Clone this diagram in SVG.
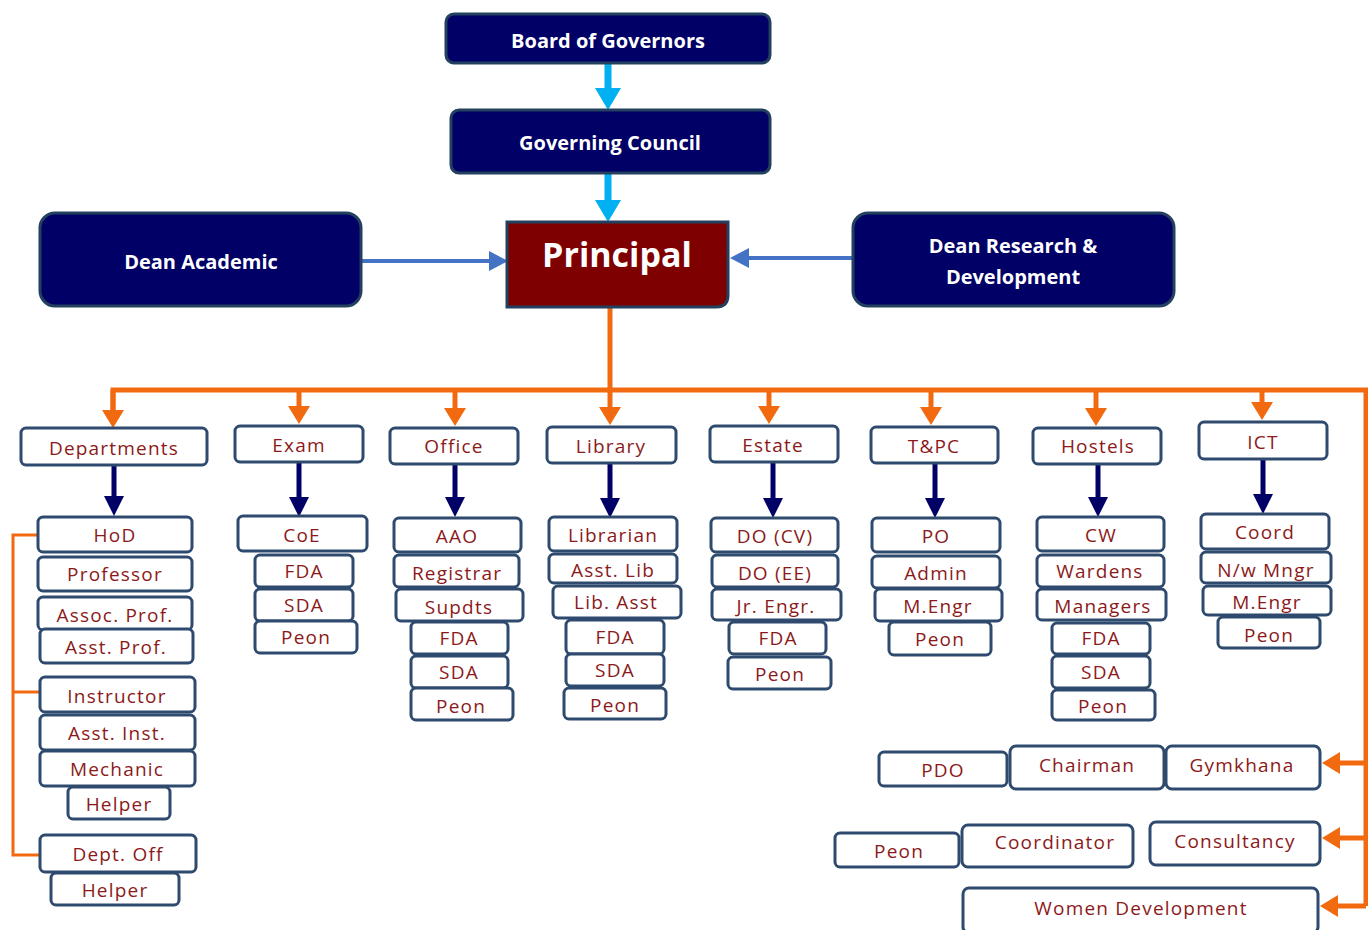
<svg xmlns="http://www.w3.org/2000/svg" width="1368" height="930" viewBox="0 0 1368 930">
<style>
.top{fill:#000066;stroke:#24405f;stroke-width:3}
.pr{fill:#7f0000;stroke:#24405f;stroke-width:3}
.wt{fill:#ffffff;font-family:"Open Sans",sans-serif;font-weight:bold;font-size:20px;text-anchor:middle;dominant-baseline:central}
.bx{fill:#ffffff;stroke:#2e4a6e;stroke-width:3}
.t{fill:#8b1a1a;font-family:"Open Sans",sans-serif;font-size:19px;letter-spacing:1.2px;text-anchor:middle;dominant-baseline:central}
.or{stroke:#f26a10;stroke-width:5;fill:none}
.orth{stroke:#f26a10;stroke-width:3;fill:none}
.cy{stroke:#00b0f0;stroke-width:7;fill:none}
.bl{stroke:#4472c4;stroke-width:4;fill:none}
.nv{stroke:#000066;stroke-width:5;fill:none}
</style>
<defs>
<marker id="mo" markerUnits="userSpaceOnUse" viewBox="0 0 18 22" markerWidth="18" markerHeight="22" refX="0" refY="11" orient="auto"><path d="M0,0 L18,11 L0,22 z" fill="#f26a10"/></marker>
<marker id="mc" markerUnits="userSpaceOnUse" viewBox="0 0 22 26" markerWidth="22" markerHeight="26" refX="0" refY="13" orient="auto"><path d="M0,0 L22,13 L0,26 z" fill="#00b0f0"/></marker>
<marker id="mb" markerUnits="userSpaceOnUse" viewBox="0 0 19 20" markerWidth="19" markerHeight="20" refX="0" refY="10" orient="auto"><path d="M0,0 L19,10 L0,20 z" fill="#4472c4"/></marker>
<marker id="mn" markerUnits="userSpaceOnUse" viewBox="0 0 20 20" markerWidth="20" markerHeight="20" refX="0" refY="10" orient="auto"><path d="M0,0 L20,10 L0,20 z" fill="#000066"/></marker>
</defs>

<g id="connectors">
<line class="cy" x1="608" y1="63" x2="608" y2="88" marker-end="url(#mc)"/>
<line class="cy" x1="608" y1="173" x2="608" y2="200" marker-end="url(#mc)"/>
<line class="bl" x1="361" y1="261" x2="489" y2="261" marker-end="url(#mb)"/>
<line class="bl" x1="853" y1="258" x2="749" y2="258" marker-end="url(#mb)"/>
<polyline class="or" points="610,308 610,390"/>
<polyline class="or" points="113,410 113,390 1366,390 1366,906"/>
<line class="or" x1="299" y1="390" x2="299" y2="406" marker-end="url(#mo)"/>
<line class="or" x1="455" y1="390" x2="455" y2="408" marker-end="url(#mo)"/>
<line class="or" x1="610" y1="390" x2="610" y2="407" marker-end="url(#mo)"/>
<line class="or" x1="769" y1="390" x2="769" y2="406" marker-end="url(#mo)"/>
<line class="or" x1="931" y1="390" x2="931" y2="407" marker-end="url(#mo)"/>
<line class="or" x1="1096" y1="390" x2="1096" y2="408" marker-end="url(#mo)"/>
<line class="or" x1="1262" y1="390" x2="1262" y2="402" marker-end="url(#mo)"/>
<line class="or" x1="113" y1="390" x2="113" y2="410" marker-end="url(#mo)"/>
<line class="or" x1="1366" y1="763" x2="1340" y2="763" marker-end="url(#mo)"/>
<line class="or" x1="1366" y1="838" x2="1340" y2="838" marker-end="url(#mo)"/>
<line class="or" x1="1366" y1="906" x2="1338" y2="906" marker-end="url(#mo)"/>
<polyline class="orth" points="38,535 13,535 13,855 40,855"/>
<line class="orth" x1="13" y1="692" x2="40" y2="692"/>
<line class="nv" x1="114" y1="465" x2="114" y2="496" marker-end="url(#mn)"/>
<line class="nv" x1="299" y1="462" x2="299" y2="497" marker-end="url(#mn)"/>
<line class="nv" x1="455" y1="464" x2="455" y2="497" marker-end="url(#mn)"/>
<line class="nv" x1="610" y1="463" x2="610" y2="498" marker-end="url(#mn)"/>
<line class="nv" x1="773" y1="462" x2="773" y2="498" marker-end="url(#mn)"/>
<line class="nv" x1="935" y1="463" x2="935" y2="498" marker-end="url(#mn)"/>
<line class="nv" x1="1098" y1="464" x2="1098" y2="497" marker-end="url(#mn)"/>
<line class="nv" x1="1263" y1="459" x2="1263" y2="494" marker-end="url(#mn)"/>
</g>

<g id="board"><rect class="top" x="446" y="14" width="324" height="49" rx="8"/><text class="wt" x="608" y="40">Board of Governors</text></g>
<g id="council"><rect class="top" x="451" y="110" width="319" height="63" rx="8"/><text class="wt" x="610" y="142">Governing Council</text></g>
<g id="principal"><path class="pr" d="M507,222 H728 V295 Q728,307 716,307 H507 Z"/><text class="wt" x="617" y="254" style="font-size:34px">Principal</text></g>
<g id="dean-academic"><rect class="top" x="40" y="213" width="321" height="93" rx="15"/><text class="wt" x="201" y="261">Dean Academic</text></g>
<g id="dean-rd"><rect class="top" x="853" y="213" width="321" height="93" rx="15"/><text class="wt" x="1013" y="245">Dean Research &amp;</text><text class="wt" x="1013" y="276">Development</text></g>

<g id="departments"><rect class="bx" x="21" y="428" width="186" height="37" rx="5"/><text class="t" x="114" y="448">Departments</text></g>
<g id="exam"><rect class="bx" x="235" y="426" width="128" height="36" rx="5"/><text class="t" x="299" y="445">Exam</text></g>
<g id="office"><rect class="bx" x="390" y="428" width="128" height="36" rx="5"/><text class="t" x="454" y="446">Office</text></g>
<g id="library"><rect class="bx" x="547" y="427" width="129" height="36" rx="5"/><text class="t" x="611" y="446">Library</text></g>
<g id="estate"><rect class="bx" x="710" y="426" width="128" height="36" rx="5"/><text class="t" x="773" y="445">Estate</text></g>
<g id="tpc"><rect class="bx" x="871" y="427" width="127" height="36" rx="5"/><text class="t" x="934" y="446">T&amp;PC</text></g>
<g id="hostels"><rect class="bx" x="1033" y="428" width="128" height="36" rx="5"/><text class="t" x="1098" y="446">Hostels</text></g>
<g id="ict"><rect class="bx" x="1199" y="422" width="128" height="37" rx="5"/><text class="t" x="1263" y="442">ICT</text></g>

<g id="dept-hod"><rect class="bx" x="38" y="517" width="154" height="35" rx="5"/><text class="t" x="115" y="535">HoD</text></g>
<g id="dept-professor"><rect class="bx" x="38" y="557" width="154" height="34" rx="5"/><text class="t" x="115" y="574">Professor</text></g>
<g id="dept-assoc"><rect class="bx" x="38" y="597" width="154" height="33" rx="5"/><text class="t" x="115" y="615">Assoc. Prof.</text></g>
<g id="dept-asst"><rect class="bx" x="40" y="629" width="153" height="34" rx="5"/><text class="t" x="116" y="647">Asst. Prof.</text></g>
<g id="dept-instructor"><rect class="bx" x="40" y="677" width="155" height="35" rx="5"/><text class="t" x="117" y="696">Instructor</text></g>
<g id="dept-asstinst"><rect class="bx" x="40" y="715" width="155" height="35" rx="5"/><text class="t" x="117" y="733">Asst. Inst.</text></g>
<g id="dept-mechanic"><rect class="bx" x="40" y="751" width="155" height="35" rx="5"/><text class="t" x="117" y="769">Mechanic</text></g>
<g id="dept-helper1"><rect class="bx" x="68" y="787" width="102" height="32" rx="5"/><text class="t" x="119" y="804">Helper</text></g>
<g id="dept-off"><rect class="bx" x="40" y="835" width="156" height="37" rx="5"/><text class="t" x="118" y="854">Dept. Off</text></g>
<g id="dept-helper2"><rect class="bx" x="51" y="873" width="128" height="32" rx="5"/><text class="t" x="115" y="890">Helper</text></g>

<g id="exam-coe"><rect class="bx" x="238" y="516" width="129" height="35" rx="5"/><text class="t" x="302" y="535">CoE</text></g>
<g id="exam-fda"><rect class="bx" x="255" y="555" width="98" height="32" rx="5"/><text class="t" x="304" y="571">FDA</text></g>
<g id="exam-sda"><rect class="bx" x="255" y="589" width="98" height="32" rx="5"/><text class="t" x="304" y="605">SDA</text></g>
<g id="exam-peon"><rect class="bx" x="255" y="621" width="102" height="32" rx="5"/><text class="t" x="306" y="637">Peon</text></g>

<g id="off-aao"><rect class="bx" x="394" y="518" width="127" height="34" rx="5"/><text class="t" x="457" y="536">AAO</text></g>
<g id="off-registrar"><rect class="bx" x="394" y="555" width="125" height="32" rx="5"/><text class="t" x="457" y="573">Registrar</text></g>
<g id="off-supdts"><rect class="bx" x="396" y="589" width="127" height="32" rx="5"/><text class="t" x="459" y="607">Supdts</text></g>
<g id="off-fda"><rect class="bx" x="411" y="622" width="97" height="32" rx="5"/><text class="t" x="459" y="638">FDA</text></g>
<g id="off-sda"><rect class="bx" x="411" y="656" width="97" height="32" rx="5"/><text class="t" x="459" y="672">SDA</text></g>
<g id="off-peon"><rect class="bx" x="411" y="688" width="102" height="32" rx="5"/><text class="t" x="461" y="706">Peon</text></g>

<g id="lib-librarian"><rect class="bx" x="549" y="517" width="128" height="34" rx="5"/><text class="t" x="613" y="535">Librarian</text></g>
<g id="lib-asstlib"><rect class="bx" x="549" y="554" width="128" height="29" rx="5"/><text class="t" x="613" y="570">Asst. Lib</text></g>
<g id="lib-libasst"><rect class="bx" x="553" y="586" width="128" height="32" rx="5"/><text class="t" x="616" y="602">Lib. Asst</text></g>
<g id="lib-fda"><rect class="bx" x="566" y="620" width="98" height="34" rx="5"/><text class="t" x="615" y="637">FDA</text></g>
<g id="lib-sda"><rect class="bx" x="566" y="654" width="98" height="32" rx="5"/><text class="t" x="615" y="670">SDA</text></g>
<g id="lib-peon"><rect class="bx" x="564" y="688" width="102" height="31" rx="5"/><text class="t" x="615" y="705">Peon</text></g>

<g id="est-docv"><rect class="bx" x="711" y="518" width="127" height="34" rx="5"/><text class="t" x="775" y="536">DO (CV)</text></g>
<g id="est-doee"><rect class="bx" x="712" y="555" width="126" height="32" rx="5"/><text class="t" x="775" y="573">DO (EE)</text></g>
<g id="est-jr"><rect class="bx" x="712" y="589" width="129" height="31" rx="5"/><text class="t" x="776" y="606">Jr. Engr.</text></g>
<g id="est-fda"><rect class="bx" x="729" y="622" width="97" height="32" rx="5"/><text class="t" x="778" y="638">FDA</text></g>
<g id="est-peon"><rect class="bx" x="728" y="657" width="103" height="32" rx="5"/><text class="t" x="780" y="674">Peon</text></g>

<g id="tpc-po"><rect class="bx" x="872" y="518" width="128" height="34" rx="5"/><text class="t" x="936" y="536">PO</text></g>
<g id="tpc-admin"><rect class="bx" x="872" y="556" width="128" height="32" rx="5"/><text class="t" x="936" y="573">Admin</text></g>
<g id="tpc-mengr"><rect class="bx" x="875" y="589" width="127" height="32" rx="5"/><text class="t" x="938" y="606">M.Engr</text></g>
<g id="tpc-peon"><rect class="bx" x="889" y="622" width="102" height="33" rx="5"/><text class="t" x="940" y="639">Peon</text></g>

<g id="hos-cw"><rect class="bx" x="1037" y="517" width="127" height="34" rx="5"/><text class="t" x="1101" y="535">CW</text></g>
<g id="hos-wardens"><rect class="bx" x="1037" y="555" width="127" height="32" rx="5"/><text class="t" x="1100" y="571">Wardens</text></g>
<g id="hos-managers"><rect class="bx" x="1037" y="589" width="129" height="31" rx="5"/><text class="t" x="1103" y="606">Managers</text></g>
<g id="hos-fda"><rect class="bx" x="1052" y="623" width="98" height="31" rx="5"/><text class="t" x="1101" y="638">FDA</text></g>
<g id="hos-sda"><rect class="bx" x="1052" y="656" width="98" height="32" rx="5"/><text class="t" x="1101" y="672">SDA</text></g>
<g id="hos-peon"><rect class="bx" x="1052" y="690" width="103" height="30" rx="5"/><text class="t" x="1103" y="706">Peon</text></g>

<g id="ict-coord"><rect class="bx" x="1201" y="514" width="128" height="35" rx="5"/><text class="t" x="1265" y="532">Coord</text></g>
<g id="ict-nw"><rect class="bx" x="1201" y="552" width="130" height="31" rx="5"/><text class="t" x="1266" y="570">N/w Mngr</text></g>
<g id="ict-mengr"><rect class="bx" x="1203" y="586" width="128" height="29" rx="5"/><text class="t" x="1267" y="602">M.Engr</text></g>
<g id="ict-peon"><rect class="bx" x="1218" y="617" width="102" height="31" rx="5"/><text class="t" x="1269" y="635">Peon</text></g>

<g id="pdo"><rect class="bx" x="879" y="752" width="128" height="34" rx="5"/><text class="t" x="943" y="770">PDO</text></g>
<g id="chairman"><rect class="bx" x="1010" y="746" width="154" height="43" rx="6"/><text class="t" x="1087" y="765">Chairman</text></g>
<g id="gymkhana"><rect class="bx" x="1166" y="746" width="154" height="43" rx="6"/><text class="t" x="1242" y="765">Gymkhana</text></g>
<g id="cons-peon"><rect class="bx" x="835" y="833" width="124" height="34" rx="5"/><text class="t" x="899" y="851">Peon</text></g>
<g id="coordinator"><rect class="bx" x="962" y="825" width="171" height="42" rx="6"/><text class="t" x="1055" y="842">Coordinator</text></g>
<g id="consultancy"><rect class="bx" x="1150" y="822" width="170" height="43" rx="6"/><text class="t" x="1235" y="841">Consultancy</text></g>
<g id="women"><rect class="bx" x="963" y="888" width="355" height="45" rx="6"/><text class="t" x="1141" y="908">Women Development</text></g>
</svg>
